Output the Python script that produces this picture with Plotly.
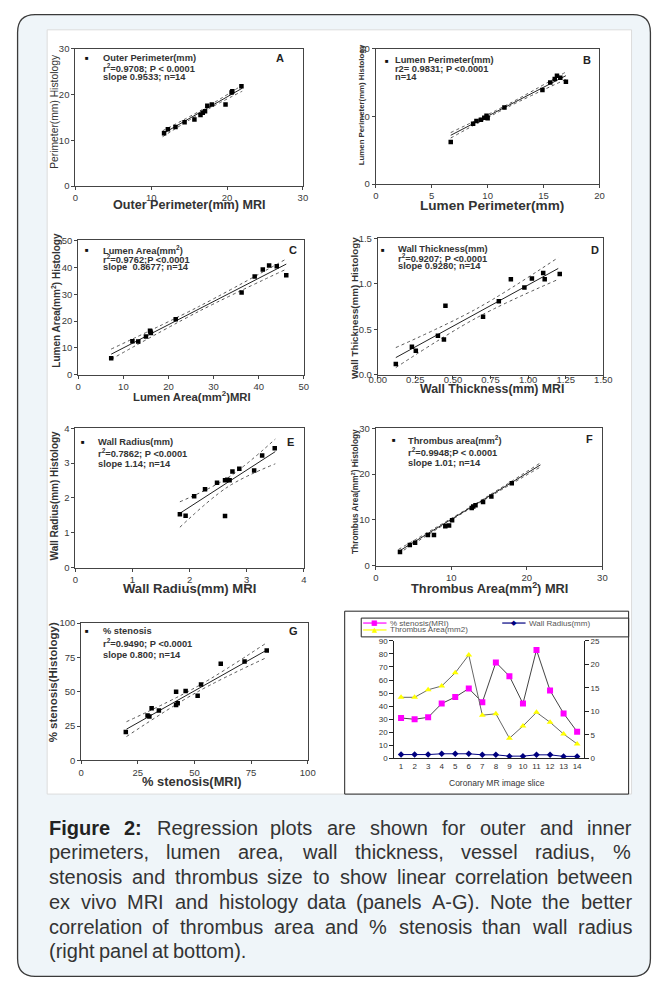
import plotly.graph_objects as go

# The page body keeps its default 8px margin, so the figure is 16px smaller than the window
PAGE_W, PAGE_H, OFF = 668, 990, 8
W, H = PAGE_W - 2 * OFF, PAGE_H - 2 * OFF
FONT = "Liberation Sans, Arial, sans-serif"
TXT = "#333333"


def fx(p):
    return (p - OFF) / W


def fy(p):
    return 1 - (p - OFF) / H


# ------------------------------------------------------------------ data
# Panel A: outer perimeter (mm)
A_mri = [11.7, 12.2, 13.2, 14.4, 15.7, 16.5, 16.8, 17.1, 17.4, 18.0, 19.8, 20.6, 20.7, 21.9]
A_hist = [11.5, 12.4, 12.9, 13.9, 14.5, 15.5, 16.0, 16.3, 17.5, 17.8, 17.8, 20.4, 20.7, 21.8]
A_fit_x = [11.5, 16.75, 22.0]
A_fit_y = [11.4, 16.4, 21.35]
A_lo = [10.75, 16.1, 20.7]
A_hi = [12.05, 16.7, 22.0]

# Panel B: lumen perimeter (mm)
B_mri = [6.7, 8.7, 9.0, 9.4, 9.7, 9.9, 10.0, 11.5, 14.9, 15.6, 16.0, 16.2, 16.5, 17.0]
B_hist = [6.2, 8.9, 9.3, 9.5, 9.8, 10.1, 9.7, 11.3, 13.9, 15.0, 15.5, 16.0, 15.7, 15.1]
B_fit_x = [6.7, 11.85, 17.0]
B_fit_y = [7.2, 11.6, 16.0]
B_lo = [6.8, 11.4, 15.45]
B_hi = [7.6, 11.8, 16.55]

# Panel C: lumen area (mm2)
C_mri = [7.3, 12.0, 13.3, 15.0, 15.9, 16.1, 16.0, 21.6, 36.2, 39.1, 40.9, 42.3, 44.0, 46.1]
C_hist = [6.2, 12.5, 12.4, 14.3, 16.4, 15.6, 16.0, 20.7, 30.6, 36.6, 39.2, 40.7, 40.4, 37.0]
C_fit_x = [7.3, 26.7, 46.1]
C_fit_y = [7.7, 24.5, 41.2]
C_lo = [5.8, 23.6, 39.3]
C_hi = [9.6, 25.4, 43.1]

# Panel D: wall thickness (mm)
D_mri = [0.12, 0.227, 0.253, 0.40, 0.44, 0.45, 0.70, 0.805, 0.885, 0.975, 1.025, 1.10, 1.11, 1.21]
D_hist = [0.12, 0.31, 0.265, 0.43, 0.39, 0.76, 0.64, 0.81, 1.05, 0.96, 1.06, 1.12, 1.05, 1.11]
D_fit_x = [0.12, 0.66, 1.2]
D_fit_y = [0.19, 0.68, 1.17]
D_lo = [0.08, 0.63, 1.05]
D_hi = [0.30, 0.73, 1.29]

# Panel E: wall radius (mm)
E_mri = [1.83, 1.93, 2.08, 2.27, 2.48, 2.62, 2.66, 2.70, 2.75, 2.87, 3.13, 3.27, 3.49, 2.62]
E_hist = [1.53, 1.49, 2.05, 2.25, 2.44, 2.51, 2.52, 2.51, 2.76, 2.84, 2.79, 3.22, 3.43, 1.48]
E_fit_x = [1.83, 2.67, 3.5]
E_fit_y = [1.56, 2.45, 3.33]
E_lo = [1.16, 2.32, 2.98]
E_hi = [1.89, 2.58, 3.69]

# Panel F: thrombus area (mm2)
F_mri = [3.2, 4.5, 5.2, 6.9, 7.7, 9.2, 9.7, 10.1, 12.7, 12.9, 13.2, 14.2, 15.3, 18.0]
F_hist = [3.0, 4.5, 5.0, 6.7, 6.7, 8.6, 8.8, 9.9, 12.6, 12.9, 13.2, 13.9, 15.1, 18.0]
F_fit_x = [3.0, 12.4, 21.8]
F_fit_y = [3.1, 12.55, 22.0]
F_lo = [2.65, 12.4, 21.55]
F_hi = [3.55, 12.7, 22.45]

# Panel G: % stenosis
G_mri = [19.7, 29.3, 30.1, 31.1, 34.3, 41.9, 41.9, 42.6, 46.1, 51.4, 52.9, 61.6, 72.1, 81.9]
G_hist = [20.7, 32.7, 32.0, 38.0, 36.3, 50.0, 40.4, 41.6, 50.5, 47.1, 55.3, 70.4, 72.1, 80.0]
G_fit_x = [20, 51, 82]
G_fit_y = [22.8, 51.6, 80.4]
G_lo = [17.4, 49.6, 75.0]
G_hi = [28.2, 53.6, 85.8]

# Panel H: per-slice series
H_slice = list(range(1, 15))
H_stenosis = [31, 30, 31.5, 42, 47, 53.5, 43, 73.5, 63, 42, 83, 52, 34.5, 20.5]
H_thrombus = [13.0, 13.0, 14.6, 15.4, 18.2, 22.0, 9.2, 9.5, 4.3, 6.9, 9.8, 7.7, 5.2, 3.1]
H_radius = [3.0, 3.0, 3.0, 3.6, 3.6, 3.6, 2.8, 2.8, 1.8, 1.8, 2.8, 2.8, 1.6, 1.6]
H_names = ["% stenosis(MRI)", "Wall Radius(mm)", "Thrombus Area(mm2)"]
H_colors = ["#ff00ff", "#000080", "#ffff00"]

# ------------------------------------------------------------------ panels
panels = [
    dict(mri=A_mri, hist=A_hist, fx_=A_fit_x, fy_=A_fit_y, lo=A_lo, hi=A_hi,
         box=(68, 302, 43, 182), xr=[0, 30], yr=[0, 30], xd=10, yd=10, xf="", yf="", xso=0,
         lines=["Outer Perimeter(mm)", "r<sup>2</sup>=0.9708; P &lt; 0.0001", "slope 0.9533; n=14"],
         mk=(80, 53), tx=95, ty=[53, 63, 72], letter="A", lp=(278, 53),
         xt="Outer Perimeter(mm) MRI", xtp=(185, 201, 12.6),
         yt="Perimeter(mm) Histology", ytp=(47, 106, 10.3, False)),
    dict(mri=B_mri, hist=B_hist, fx_=B_fit_x, fy_=B_fit_y, lo=B_lo, hi=B_hi,
         box=(377, 607, 43, 180), xr=[0, 20], yr=[0, 20], xd=5, yd=10, xf="", yf="", xso=0,
         lines=["Lumen Perimeter(mm)", "r2= 0.9831; P &lt;0.0001", "n=14"],
         mk=(389, 56), tx=396, ty=[55, 64, 72], letter="B", lp=(594, 55),
         xt="Lumen Perimeter(mm)", xtp=(496, 201.5, 13.6),
         yt="Lumen Perimeter(mm) Histology", ytp=(363, 100, 7.8, True)),
    dict(mri=C_mri, hist=C_hist, fx_=C_fit_x, fy_=C_fit_y, lo=C_lo, hi=C_hi,
         box=(71, 303, 237, 373), xr=[0, 50], yr=[0, 50], xd=10, yd=10, xf="", yf="", xso=0,
         lines=["Lumen Area(mm<sup>2</sup>)", "r<sup>2</sup>=0.9762;P &lt;0.0001", "slope  0.8677; n=14"],
         mk=(80, 247), tx=95, ty=[247, 256, 264], letter="C", lp=(292, 247),
         xt="Lumen Area(mm<sup>2</sup>)MRI", xtp=(188, 394, 11.3),
         yt="Lumen Area(mm<sup>2</sup>) Histology", ytp=(48, 297, 10, True)),
    dict(mri=D_mri, hist=D_hist, fx_=D_fit_x, fy_=D_fit_y, lo=D_lo, hi=D_hi,
         box=(379, 611, 235, 373), xr=[0, 1.5], yr=[0, 1.5], xd=0.25, yd=0.5, xf=".2f", yf=".1f", xso=-7,
         lines=["Wall Thickness(mm)", "r<sup>2</sup>=0.9207; P &lt;0.0001", "slope 0.9280; n=14"],
         mk=(384, 247), tx=399, ty=[246, 255, 263], letter="D", lp=(602, 247),
         xt="Wall Thickness(mm) MRI", xtp=(496, 387, 12.3),
         yt="Wall Thickness(mm) Histology", ytp=(355, 305, 9.8, True)),
    dict(mri=E_mri, hist=E_hist, fx_=E_fit_x, fy_=E_fit_y, lo=E_lo, hi=E_hi,
         box=(68, 303, 427, 568), xr=[0, 4], yr=[0, 4], xd=1, yd=1, xf="", yf="", xso=0,
         lines=["Wall Radius(mm)", "r<sup>2</sup>=0.7862; P &lt;0.0001", "slope 1.14; n=14"],
         mk=(76, 441), tx=90, ty=[441, 452, 463], letter="E", lp=(289, 441),
         xt="Wall Radius(mm) MRI", xtp=(185, 589, 13.1),
         yt="Wall Radius(mm) Histology", ytp=(47, 495, 10, True)),
    dict(mri=F_mri, hist=F_hist, fx_=F_fit_x, fy_=F_fit_y, lo=F_lo, hi=F_hi,
         box=(377, 610, 427, 566), xr=[0, 30], yr=[0, 30], xd=10, yd=10, xf="", yf="", xso=0,
         lines=["Thrombus area(mm<sup>2</sup>)", "r<sup>2</sup>=0.9948;P &lt; 0.0001", "slope 1.01; n=14"],
         mk=(396, 439), tx=409, ty=[439, 451, 462], letter="F", lp=(597, 438),
         xt="Thrombus Area(mm<sup>2</sup>) MRI", xtp=(494, 589, 12.8),
         yt="Thrombus Area(mm<sup>2</sup>) Histology", ytp=(355, 491, 8.3, True)),
    dict(mri=G_mri, hist=G_hist, fx_=G_fit_x, fy_=G_fit_y, lo=G_lo, hi=G_hi,
         box=(74, 307, 624, 763), xr=[0, 100], yr=[0, 100], xd=25, yd=25, xf="", yf="", xso=0,
         lines=["% stenosis", "r<sup>2</sup>=0.9490; P &lt;0.0001", "slope 0.800; n=14"],
         mk=(80, 632), tx=95, ty=[632, 644, 656], letter="G", lp=(292, 632),
         xt="% stenosis(MRI)", xtp=(188, 784, 12.9),
         yt="% stenosis(Histology)", ytp=(45, 684, 11.5, True)),
]

fig = go.Figure()
annotations = []
shapes = []
layout = {}


def ann(x, y, text, size, color=TXT, family=FONT, xanchor="center", yanchor="middle", **kw):
    d = dict(x=fx(x), y=fy(y), xref="paper", yref="paper", text=text, showarrow=False,
             xanchor=xanchor, yanchor=yanchor, borderpad=0,
             font=dict(size=size, color=color, family=family))
    d.update(kw)
    annotations.append(d)


# background frame (rounded) and white figure area
L_, T_, R_, B_, r = 8.6, 8.6, 659.4, 981.4, 18
frame = (f"M {fx(L_ + r)},{fy(T_)} L {fx(R_ - r)},{fy(T_)} Q {fx(R_)},{fy(T_)} {fx(R_)},{fy(T_ + r)} "
         f"L {fx(R_)},{fy(B_ - r)} Q {fx(R_)},{fy(B_)} {fx(R_ - r)},{fy(B_)} "
         f"L {fx(L_ + r)},{fy(B_)} Q {fx(L_)},{fy(B_)} {fx(L_)},{fy(B_ - r)} "
         f"L {fx(L_)},{fy(T_ + r)} Q {fx(L_)},{fy(T_)} {fx(L_ + r)},{fy(T_)} Z")
shapes.append(dict(type="path", path=frame, xref="paper", yref="paper",
                   fillcolor="#eff5f9", line=dict(color="#3a3a3a", width=1.3), layer="below"))
shapes.append(dict(type="rect", xref="paper", yref="paper", x0=fx(39), x1=fx(640), y0=fy(797), y1=fy(24),
                   fillcolor="white", line=dict(color="#dcdcdc", width=1), layer="below"))
# box around the line-chart panel
shapes.append(dict(type="rect", xref="paper", yref="paper", x0=fx(345), x1=fx(637), y0=fy(797), y1=fy(612),
                   fillcolor="white", line=dict(color="#222", width=1), layer="below"))


def axis_base(**kw):
    d = dict(showline=True, linecolor="#444", linewidth=1, mirror=True, ticks="outside", ticklen=3,
             tickcolor="#444", tickfont=dict(size=9.5, color="#3a3a3a", family=FONT), showgrid=False,
             zeroline=False, fixedrange=True)
    d.update(kw)
    return d


for i, p in enumerate(panels, start=1):
    xa = "x" if i == 1 else f"x{i}"
    ya = "y" if i == 1 else f"y{i}"
    Lp, Rp, Tp, Bp = p["box"]
    layout["xaxis" if i == 1 else f"xaxis{i}"] = axis_base(
        domain=[fx(Lp), fx(Rp)], range=p["xr"], dtick=p["xd"], tick0=0, tickformat=p["xf"], anchor=ya,
        ticklabelstandoff=p["xso"])
    layout["yaxis" if i == 1 else f"yaxis{i}"] = axis_base(
        domain=[fy(Bp), fy(Tp)], range=p["yr"], dtick=p["yd"], tick0=0, tickformat=p["yf"], anchor=xa)
    # confidence bands and fit line
    for band in (p["lo"], p["hi"]):
        fig.add_trace(go.Scatter(x=p["fx_"], y=band, mode="lines", xaxis=xa, yaxis=ya, showlegend=False,
                                 line=dict(color="#555", width=1, dash="dot", shape="spline"),
                                 hoverinfo="skip"))
    fig.add_trace(go.Scatter(x=p["fx_"], y=p["fy_"], mode="lines", xaxis=xa, yaxis=ya, showlegend=False,
                             line=dict(color="#222", width=1), hoverinfo="skip"))
    fig.add_trace(go.Scatter(x=p["mri"], y=p["hist"], mode="markers", xaxis=xa, yaxis=ya, showlegend=False,
                             marker=dict(symbol="square", size=4.5, color="black")))
    # inner legend text
    ann(p["mk"][0], p["mk"][1], "■", 6, color="#111")
    for t, yy in zip(p["lines"], p["ty"]):
        ann(p["tx"], yy, f"<b>{t}</b>", 9.3, xanchor="left")
    ann(p["lp"][0], p["lp"][1], f"<b>{p['letter']}</b>", 11, color="#222")
    # axis titles
    xt_x, xt_y, xt_s = p["xtp"]
    ann(xt_x, xt_y, f"<b>{p['xt']}</b>", xt_s)
    yt_x, yt_y, yt_s, yt_b = p["ytp"]
    ann(yt_x, yt_y, f"<b>{p['yt']}</b>" if yt_b else p["yt"], yt_s, textangle=-90)

# ---------------------------------------------------------------- panel H
layout["xaxis8"] = dict(domain=[fx(396), fx(591)], range=[0.5, 14.5], tickvals=H_slice, anchor="y8",
                        showline=True, linecolor="#222", linewidth=1, ticks="", showgrid=False,
                        zeroline=False, tickfont=dict(size=8, color=TXT, family=FONT), fixedrange=True)
layout["yaxis8"] = dict(domain=[fy(761), fy(642)], range=[0, 90], dtick=10, anchor="x8", showline=True,
                        linecolor="#222", linewidth=1, ticks="outside", ticklen=4, tickcolor="#222",
                        showgrid=False, zeroline=False, tickfont=dict(size=8, color=TXT, family=FONT),
                        fixedrange=True)
layout["yaxis9"] = dict(domain=[fy(761), fy(642)], range=[0, 25], dtick=5, anchor="x8", overlaying="y8",
                        side="right", showline=True, linecolor="#222", linewidth=1, ticks="outside",
                        ticklen=4, tickcolor="#222", showgrid=False, zeroline=False,
                        tickfont=dict(size=8, color=TXT, family=FONT), fixedrange=True)

fig.add_trace(go.Scatter(x=H_slice, y=H_stenosis, mode="lines+markers", name=H_names[0],
                         xaxis="x8", yaxis="y8", line=dict(color="#444", width=1), showlegend=False,
                         marker=dict(symbol="square", size=6, color=H_colors[0])))
fig.add_trace(go.Scatter(x=H_slice, y=H_radius, mode="lines+markers", name=H_names[1],
                         xaxis="x8", yaxis="y8", line=dict(color=H_colors[1], width=1), showlegend=False,
                         marker=dict(symbol="diamond", size=5, color=H_colors[1])))
fig.add_trace(go.Scatter(x=H_slice, y=H_thrombus, mode="lines+markers", name=H_names[2],
                         xaxis="x8", yaxis="y9", line=dict(color="#666", width=1), showlegend=False,
                         marker=dict(symbol="triangle-up", size=6, color=H_colors[2])))

# compact two-row key of panel H
shapes.append(dict(type="rect", xref="paper", yref="paper", x0=fx(362), x1=fx(637), y0=fy(638), y1=fy(619),
                   fillcolor="white", line=dict(color="#222", width=1)))
key_pos = [(364, 624), (507, 624), (364, 631)]
key_sym = ["■", "◆", "▲"]
for (kx, ky), nm, col, sym in zip(key_pos, H_names, H_colors, key_sym):
    shapes.append(dict(type="line", xref="paper", yref="paper", x0=fx(kx), x1=fx(kx + 24),
                       y0=fy(ky), y1=fy(ky), line=dict(color=col, width=1.2)))
    ann(kx + 12, ky, sym, 7, color=col, family="DejaVu Sans")
    ann(kx + 27, ky, nm, 8, color="#555", xanchor="left")

ann(502, 786, "Coronary MR image slice", 8.5)

# ---------------------------------------------------------------- caption (justified)
AR = {' ': 278, 'a': 556, 'b': 556, 'c': 500, 'd': 556, 'e': 556, 'f': 278, 'g': 556, 'h': 556, 'i': 222,
      'j': 222, 'k': 500, 'l': 222, 'm': 833, 'n': 556, 'o': 556, 'p': 556, 'q': 556, 'r': 333, 's': 500,
      't': 278, 'u': 556, 'v': 500, 'w': 722, 'x': 500, 'y': 500, 'z': 500, 'A': 667, 'G': 778, 'M': 833,
      'R': 722, 'I': 278, 'N': 722, 'F': 611, 'T': 611, '%': 889, '(': 333, ')': 333, ',': 278, '.': 278,
      ':': 278, '-': 333, '2': 556}
ARB = {'F': 611, 'i': 278, 'g': 611, 'u': 611, 'r': 389, 'e': 556, '2': 556, ':': 333, ' ': 278}

caption = [
    "Figure 2: Regression plots are shown for outer and inner",
    "perimeters, lumen area, wall thickness, vessel radius, %",
    "stenosis and thrombus size to show linear correlation between",
    "ex vivo MRI and histology data (panels A-G). Note the better",
    "correlation of thrombus area and % stenosis than wall radius",
    "(right panel at bottom).",
]
CS = 20
CL, CR = 40, 638
base0, step = 838, 25
for li, line in enumerate(caption):
    words = line.split(" ")
    bold = [li == 0 and wi < 2 for wi in range(len(words))]
    widths = [sum((ARB if b else AR).get(c, 556) for c in w) * CS / 1000 for w, b in zip(words, bold)]
    if li < len(caption) - 1:
        gap = (CR - CL - sum(widths)) / (len(words) - 1)
    else:
        gap = AR[' '] * CS / 1000
    xpos = CL
    ycen = base0 + li * step - 0.35 * CS
    for w, wd, b in zip(words, widths, bold):
        ann(xpos, ycen, f"<b>{w}</b>" if b else w, CS, color=("#222" if b else "#333"), xanchor="left")
        xpos += wd + gap

layout.update(dict(
    width=W, height=H, autosize=False, margin=dict(l=0, r=0, t=0, b=0),
    paper_bgcolor="white", plot_bgcolor="rgba(0,0,0,0)",
    showlegend=False,
    annotations=annotations, shapes=shapes, font=dict(family=FONT),
))
fig.update_layout(**layout)
fig.write_html("out.html", config={"displayModeBar": False, "staticPlot": True})
